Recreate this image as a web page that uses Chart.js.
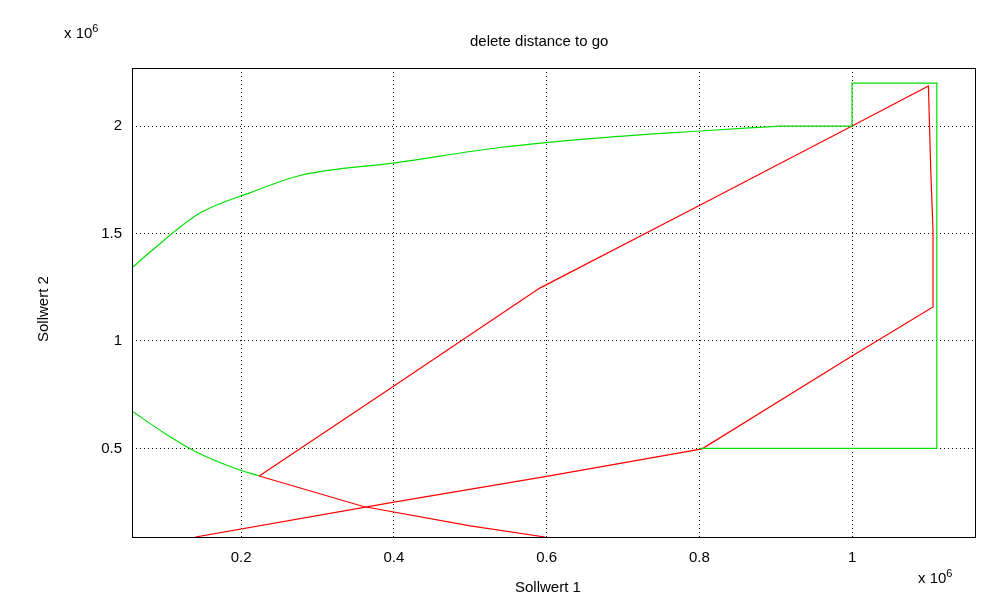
<!DOCTYPE html>
<html><head><meta charset="utf-8">
<script src="https://cdn.jsdelivr.net/npm/chart.js@4/dist/chart.umd.min.js"></script>
<style>
body{margin:0;background:#fff;font-family:"Liberation Sans",Arial,sans-serif;}
#wrap{position:relative;width:1004px;height:603px;}
.t{position:absolute;font-size:15px;color:#000;white-space:nowrap;}
</style></head><body>
<div id="wrap">
<canvas id="c" width="1004" height="603"></canvas>
<div class="t" style="left:470px;top:32px;">delete distance to go</div>
<div class="t" style="left:64px;top:22px;">x 10<sup style="font-size:11px">6</sup></div>
<div class="t" style="left:918px;top:567px;">x 10<sup style="font-size:11px">6</sup></div>
<div class="t" style="left:515px;top:578px;">Sollwert 1</div>
<div class="t" style="left:34px;top:342px;transform:rotate(-90deg);transform-origin:left top;">Sollwert 2</div>
</div>
<script>
// values in units of 1e6
const xTicks = [0.2, 0.4, 0.6, 0.8, 1.0];
const yTicks = [0.5, 1.0, 1.5, 2.0];

const greenCurve = [
  {x:0.057,y:1.34},{x:0.081,y:1.415},{x:0.146,y:1.595},{x:0.212,y:1.69},{x:0.277,y:1.77},
  {x:0.404,y:1.83},{x:0.539,y:1.9},{x:0.67,y:1.945},{x:0.801,y:1.977},{x:0.906,y:2.0}
];
const greenBox = [
  {x:0.906,y:2.0},{x:1.0,y:2.0},{x:1.0,y:2.2},{x:1.111,y:2.2},
  {x:1.111,y:0.5},{x:0.80,y:0.5}
];
const greenLower = [
  {x:0.057,y:0.674},{x:0.10,y:0.57},{x:0.146,y:0.475},{x:0.19,y:0.41},{x:0.2236,y:0.372}
];
const redPath = [
  {x:0.2236,y:0.372},{x:0.40,y:0.79},{x:0.591,y:1.246},{x:0.80,y:1.63},{x:1.0,y:2.0},
  {x:1.10,y:2.186},{x:1.103,y:1.80},{x:1.106,y:1.516},{x:1.106,y:1.158},{x:1.0,y:0.93},
  {x:0.8036,y:0.498},{x:0.60,y:0.37},{x:0.40,y:0.25},{x:0.14,y:0.088}
];
const redCross = [
  {x:0.2236,y:0.372},{x:0.36,y:0.23},{x:0.50,y:0.14},{x:0.598,y:0.088}
];

const box = {
  id:'box',
  afterDraw(ch){
    const a = ch.chartArea, g = ch.ctx;
    g.save(); g.strokeStyle='#000'; g.lineWidth=1;
    g.strokeRect(Math.round(a.left)+0.5, Math.round(a.top)+0.5, Math.round(a.right-a.left), Math.round(a.bottom-a.top));
    g.restore();
  }
};

const ds = (data, color, smooth) => ({data, borderColor:color, borderWidth:1.2, pointRadius:0, showLine:true, fill:false,
  tension: smooth ? 0.4 : 0, cubicInterpolationMode: smooth ? 'monotone' : 'default'});

new Chart(document.getElementById('c'), {
  type:'scatter',
  data:{datasets:[ds(greenCurve,'#00e000',true), ds(greenBox,'#00e000'), ds(greenLower,'#00e000',true), ds(redPath,'#ff0000'), ds(redCross,'#ff0000')]},
  options:{
    responsive:false, animation:false,
    layout:{padding:{left:0,right:29,top:68,bottom:0}},
    plugins:{legend:{display:false}, tooltip:{enabled:false}},
    scales:{
      x:{type:'linear', min:0.057, max:1.161,
        afterBuildTicks(s){ s.ticks = xTicks.map(v=>({value:v})); },
        afterFit(s){ s.height = 66; },
        grid:{color:'#000', lineWidth:1, tickLength:0, drawTicks:false},
        border:{display:false, dash:[1,3]},
        ticks:{color:'#000', font:{size:15, family:'Liberation Sans'}, padding:12, callback:v=>String(v)}
      },
      y:{type:'linear', min:0.088, max:2.27,
        afterBuildTicks(s){ s.ticks = yTicks.map(v=>({value:v})); },
        afterFit(s){ s.width = 132; },
        grid:{color:'#000', lineWidth:1, drawTicks:false},
        border:{display:false, dash:[1,3]},
        ticks:{color:'#000', font:{size:15, family:'Liberation Sans'}, padding:10, callback:v=>String(v)}
      }
    }
  },
  plugins:[box]
});
</script>
</body></html>
